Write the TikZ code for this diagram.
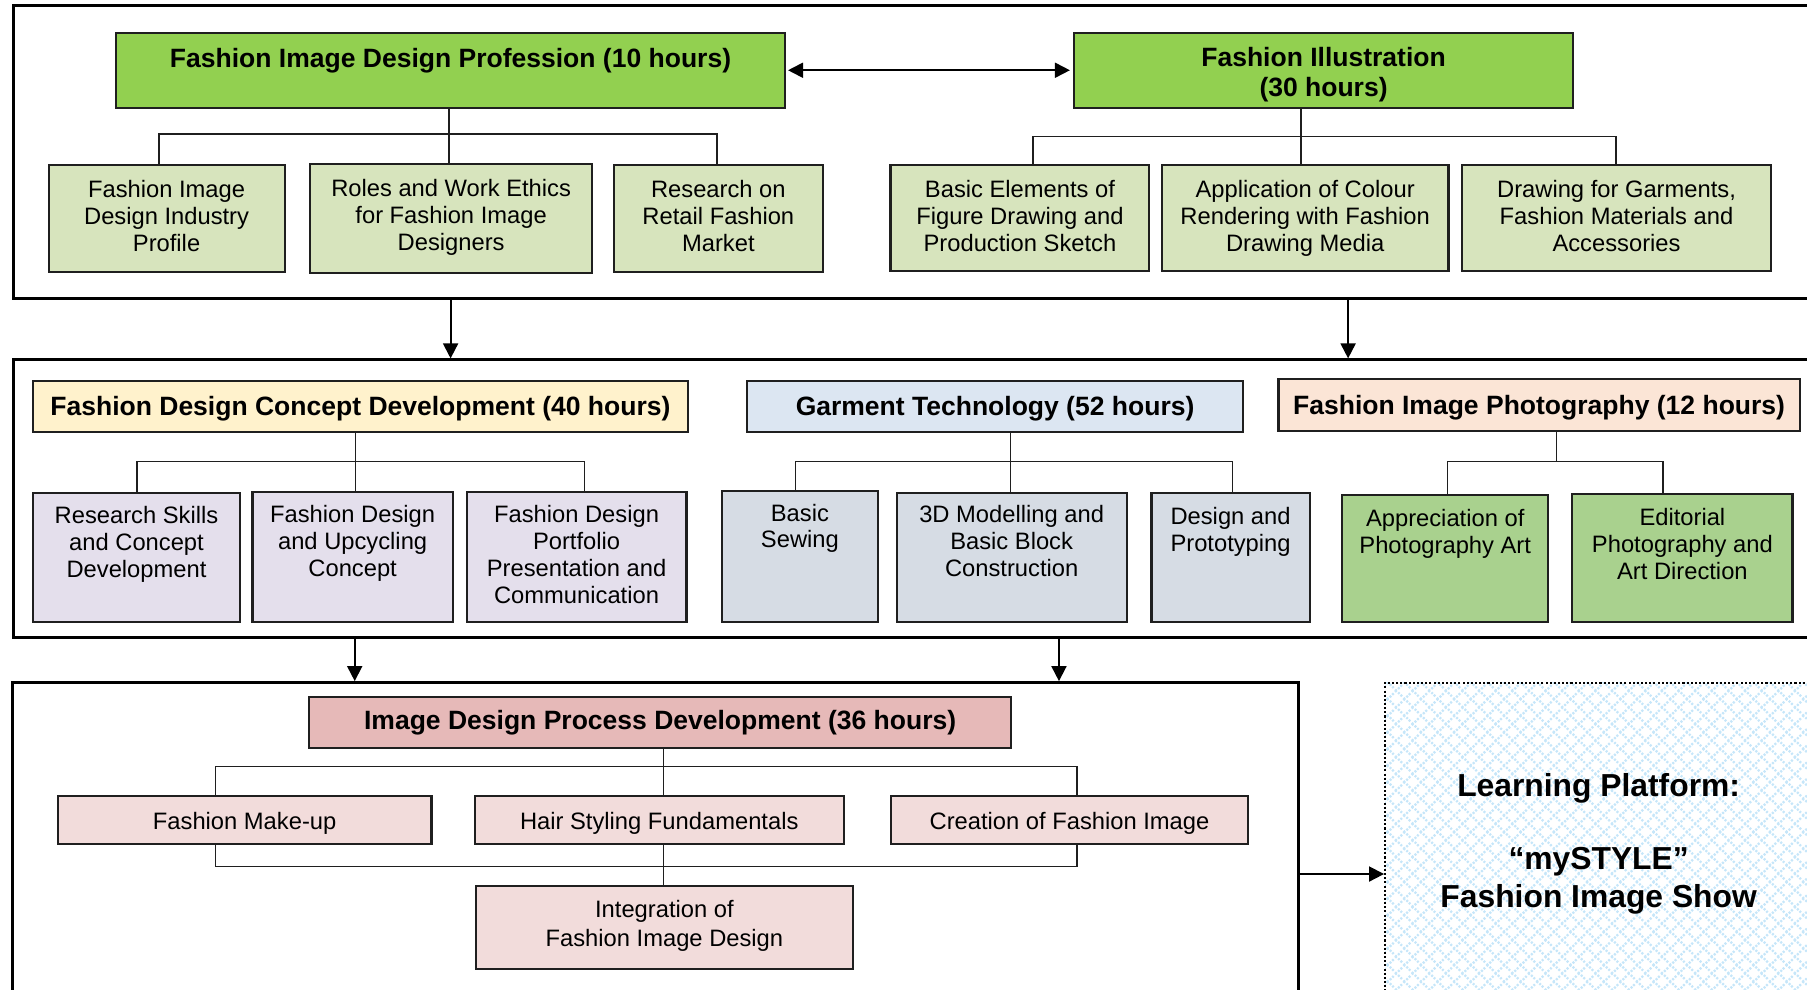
\documentclass[tikz,border=0pt]{standalone}
\usepackage{fontspec}
\setmainfont{Liberation Sans}
\usetikzlibrary{arrows.meta,patterns.meta}
\definecolor{gHead}{HTML}{92D050}
\definecolor{gKid}{HTML}{D7E4BD}
\definecolor{yHead}{HTML}{FFF2CC}
\definecolor{bHead}{HTML}{DCE6F2}
\definecolor{pHead}{HTML}{FBE5D6}
\definecolor{lKid}{HTML}{E4DFEC}
\definecolor{bKid}{HTML}{D6DCE4}
\definecolor{phKid}{HTML}{A9D18E}
\definecolor{rHead}{HTML}{E6B9B8}
\definecolor{rKid}{HTML}{F2DCDB}
\definecolor{hatchc}{HTML}{C6E6F9}
\definecolor{edgec}{HTML}{1F1F1F}
\newcommand\kb[4]{\parbox[c][#2][t]{#1}{\centering\rule{0pt}{#3}#4}}
\begin{document}
\begin{tikzpicture}[x=0.5pt,y=-0.5pt,
 boxbase/.style={draw=edgec, line width=0.9pt, inner sep=0pt, anchor=north west},
 kidbox/.style={boxbase, font=\fontsize{10.3}{11.7}\selectfont},
 headbox/.style={boxbase, font=\fontsize{11.5}{12.75}\selectfont\bfseries},
 framebox/.style={draw=black, line width=1.3pt, inner sep=0pt, anchor=north west},
 conn/.style={draw=edgec, line width=0.6pt},
 tipx/.tip={Triangle[length=6.5pt,width=6.5pt]},
 arrowline/.style={line width=0.8pt, -tipx},
]
\useasboundingbox (0,0) rectangle (1568,859);
\clip (0,0) rectangle (1568,859);

% frames
\node[framebox, minimum width=790pt, minimum height=126.85pt] (f1) at (10,3.8) {};
\node[framebox, minimum width=790pt, minimum height=120.3pt] (f2) at (10,311) {};
\node[framebox, minimum width=557.8pt, minimum height=154.5pt] (f3) at (9.5,591) {};

% row 1
\node[headbox, fill=gHead] (p1) at (100.1,27.5) {\kb{289.95pt}{32.55pt}{15.2pt}{Fashion Image Design Profession (10 hours)}};
\node[headbox, fill=gHead] (p2) at (931.4,27.5) {\kb{216.2pt}{32.55pt}{14.7pt}{Fashion Illustration\\(30 hours)}};

\node[kidbox, fill=gKid] (a1) at (41.3,142.6) {\kb{102.35pt}{46.2pt}{14pt}{Fashion Image\\Design Industry\\Profile}};
\node[kidbox, fill=gKid] (a2) at (268,141.5) {\kb{122.55pt}{47.15pt}{13.9pt}{Roles and Work Ethics\\for Fashion Image\\Designers}};
\node[kidbox, fill=gKid] (a3) at (532,142.6) {\kb{90.45pt}{46.2pt}{14pt}{Research on\\Retail Fashion\\Market}};
\node[kidbox, fill=gKid] (a4) at (771.8,142.6) {\kb{112.35pt}{45.85pt}{14pt}{Basic Elements of\\Figure Drawing and\\Production Sketch}};
\node[kidbox, fill=gKid] (a5) at (1007.3,142.6) {\kb{124.35pt}{45.85pt}{14pt}{Application of Colour\\Rendering with Fashion\\Drawing Media}};
\node[kidbox, fill=gKid] (a6) at (1267.9,142.6) {\kb{133.9pt}{45.85pt}{14pt}{Drawing for Garments,\\Fashion Materials and\\Accessories}};

% row 2
\node[headbox, fill=yHead] (h1) at (27.4,329.7) {\kb{284.45pt}{22pt}{14.8pt}{Fashion Design Concept Development (40 hours)}};
\node[headbox, fill=bHead] (h2) at (647.2,329.7) {\kb{215.35pt}{22pt}{14.8pt}{Garment Technology (52 hours)}};
\node[headbox, fill=pHead] (h3) at (1108.5,327.7) {\kb{226.1pt}{22.7pt}{15.5pt}{Fashion Image Photography (12 hours)}};

\node[kidbox, fill=lKid] (l1) at (27.9,426.6) {\kb{89.65pt}{56.15pt}{13.5pt}{Research Skills\\and Concept\\Development}};
\node[kidbox, fill=lKid] (l2) at (218.2,425.8) {\kb{86.9pt}{56.55pt}{13.5pt}{Fashion Design\\and Upcycling\\Concept}};
\node[kidbox, fill=lKid] (l3) at (404,425.8) {\kb{95.4pt}{56.55pt}{13.5pt}{Fashion Design\\Portfolio\\Presentation and\\Communication}};
\node[kidbox, fill=bKid] (b1) at (625.8,425.2) {\kb{67.4pt}{56.85pt}{13pt}{Basic\\Sewing}};
\node[kidbox, fill=bKid] (b2) at (777.1,426.6) {\kb{99.85pt}{56.15pt}{13pt}{3D Modelling and\\Basic Block\\Construction}};
\node[kidbox, fill=bKid] (b3) at (998.3,427.2) {\kb{68.6pt}{55.85pt}{13.5pt}{Design and\\Prototyping}};
\node[kidbox, fill=phKid] (q1) at (1163.7,428.7) {\kb{89.45pt}{55.1pt}{13.5pt}{Appreciation of\\Photography Art}};
\node[kidbox, fill=phKid] (q2) at (1363.4,427.8) {\kb{95.55pt}{55.55pt}{13.8pt}{Editorial\\Photography and\\Art Direction}};

% row 3
\node[headbox, fill=rHead] (i0) at (267.5,604) {\kb{304.45pt}{21.95pt}{14pt}{Image Design Process Development (36 hours)}};
\node[kidbox, fill=rKid] (c1) at (49.3,690.2) {\kb{162.1pt}{20.8pt}{14.3pt}{Fashion Make-up}};
\node[kidbox, fill=rKid] (c2) at (410.9,690.2) {\kb{160.25pt}{20.8pt}{14.3pt}{Hair Styling Fundamentals}};
\node[kidbox, fill=rKid] (c3) at (772.5,690.2) {\kb{154.65pt}{20.8pt}{14.3pt}{Creation of Fashion Image}};
\node[kidbox, fill=rKid, font=\fontsize{10.3}{12.25}\selectfont] (ig) at (412.4,768) {\kb{163.25pt}{36.15pt}{13.75pt}{Integration of\\Fashion Image Design}};

% learning platform
\node[anchor=north west, inner sep=0pt, draw=black, line width=0.9pt, dash pattern=on 0.9pt off 0.9pt,
  preaction={pattern={Lines[angle=45,distance=5.1pt,line width=1pt]}, pattern color=hatchc},
  pattern={Lines[angle=-45,distance=5.1pt,line width=1pt]}, pattern color=hatchc,
  font=\fontsize{13.8}{16.65}\selectfont\bfseries] (lp) at (1201,591.5)
  {\kb{185.2pt}{139.25pt}{49.2pt}{Learning Platform:\\[15.15pt]“mySTYLE”\\Fashion Image Show}};

% tree connectors
\coordinate (t1a) at (138,116.3); \coordinate (t1b) at (389.6,116.3); \coordinate (t1c) at (622.2,116.3);
\coordinate (t2a) at (896.5,118.6); \coordinate (t2b) at (1128.9,118.6); \coordinate (t2c) at (1402.3,118.6);
\coordinate (t3a) at (119,400.6); \coordinate (t3b) at (308.3,400.6); \coordinate (t3c) at (507.1,400.6);
\coordinate (t4a) at (690.1,400.6); \coordinate (t4b) at (877,400.6); \coordinate (t4c) at (1069.3,400.6);
\coordinate (t5a) at (1256.2,400.6); \coordinate (t5b) at (1350.5,400.6); \coordinate (t5c) at (1443,400.6);
\coordinate (t6a) at (186.8,665.3); \coordinate (t6b) at (576,665.3); \coordinate (t6c) at (934.6,665.3);
\coordinate (t7a) at (186.8,752); \coordinate (t7b) at (576,752); \coordinate (t7c) at (934.6,752);

\draw[conn] (a1.north -| t1a) -- (t1a) -- (t1c) -- (a3.north -| t1c);
\draw[conn] (p1.south -| t1b) -- (a2.north -| t1b);
\draw[conn] (a4.north -| t2a) -- (t2a) -- (t2c) -- (a6.north -| t2c);
\draw[conn] (p2.south -| t2b) -- (a5.north -| t2b);

\draw[conn] (l1.north -| t3a) -- (t3a) -- (t3c) -- (l3.north -| t3c);
\draw[conn] (h1.south -| t3b) -- (l2.north -| t3b);
\draw[conn] (b1.north -| t4a) -- (t4a) -- (t4c) -- (b3.north -| t4c);
\draw[conn] (h2.south -| t4b) -- (b2.north -| t4b);
\draw[conn] (q1.north -| t5a) -- (t5a) -- (t5c) -- (q2.north -| t5c);
\draw[conn] (h3.south -| t5b) -- (t5b);

\draw[conn] (c1.north -| t6a) -- (t6a) -- (t6c) -- (c3.north -| t6c);
\draw[conn] (i0.south -| t6b) -- (c2.north -| t6b);
\draw[conn] (c1.south -| t7a) -- (t7a) -- (t7c) -- (c3.south -| t7c);
\draw[conn] (c2.south -| t7b) -- (ig.north -| t7b);

% arrows
\coordinate (v1) at (391,0); \coordinate (v2) at (1169.8,0);
\coordinate (v3) at (307.8,0); \coordinate (v4) at (918.9,0);
\coordinate (hl) at (0,758.4);
\draw[line width=0.8pt, tipx-tipx, shorten <=1pt, shorten >=1.5pt] (p1.east) -- (p2.west);
\draw[arrowline] (f1.south -| v1) -- (f2.north -| v1);
\draw[arrowline] (f1.south -| v2) -- (f2.north -| v2);
\draw[arrowline] (f2.south -| v3) -- (f3.north -| v3);
\draw[arrowline] (f2.south -| v4) -- (f3.north -| v4);
\draw[arrowline] (f3.east |- hl) -- (lp.west |- hl);
\end{tikzpicture}
\end{document}
